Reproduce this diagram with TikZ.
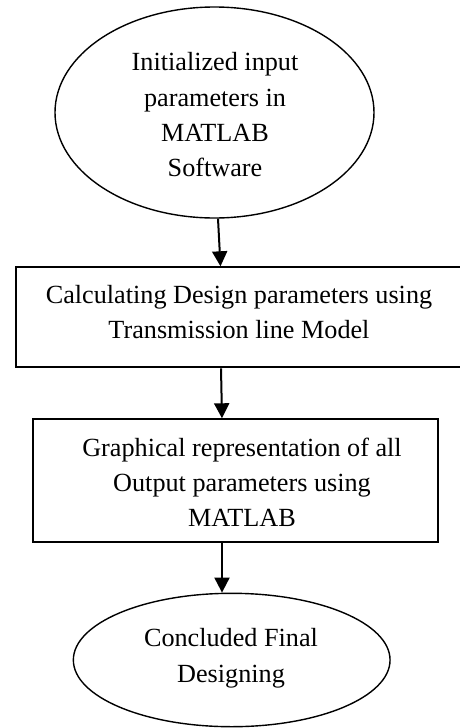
\documentclass[tikz,border=0pt]{standalone}
\usepackage{fontspec}
\setmainfont{Liberation Serif}
\usetikzlibrary{shapes.geometric,arrows.meta}
\begin{document}
\begin{tikzpicture}[x=1pt,y=-1pt,
  ell/.style={draw, ellipse, line width=1.4pt, inner sep=0pt},
  boxnode/.style={draw, rectangle, line width=2pt, inner sep=0pt},
  txt/.style={inner sep=0pt, align=center, font=\fontsize{26.2}{35.3}\selectfont},
  arr/.style={line width=2pt, -{Triangle[length=15pt,width=15pt]}}]
\useasboundingbox (0,0) rectangle (459,728);
\node[ell, minimum width=319, minimum height=211] (n1) at (214.5,112.5) {};
\node[txt] (t1) at (215,114.7) {Initialized input\\parameters in\\MATLAB\\Software};
\node[boxnode, minimum width=446.3, minimum height=100] (b1) at (238.85,317.3) {};
\node[txt] (t2) at (239,312.3) {Calculating Design parameters using\\Transmission line Model};
\node[boxnode, minimum width=404.4, minimum height=122.4] (b2) at (235.5,480.5) {};
\node[txt] (t3) at (242,482.35) {Graphical representation of all\\Output parameters using\\MATLAB};
\node[ell, minimum width=316.7, minimum height=133.4] (n2) at (231.7,660) {};
\node[txt] (t4) at (231,658.1) {Concluded Final\\Designing};
\draw[arr] ([xshift=3.5]n1.south) -- ([xshift=-18.35]b1.north);
\draw[arr] ([xshift=-17.85]b1.south) -- ([xshift=-13.5]b2.north);
\draw[arr] ([xshift=-13.5]b2.south) -- ([xshift=-9.7]n2.north);
\end{tikzpicture}
\end{document}
